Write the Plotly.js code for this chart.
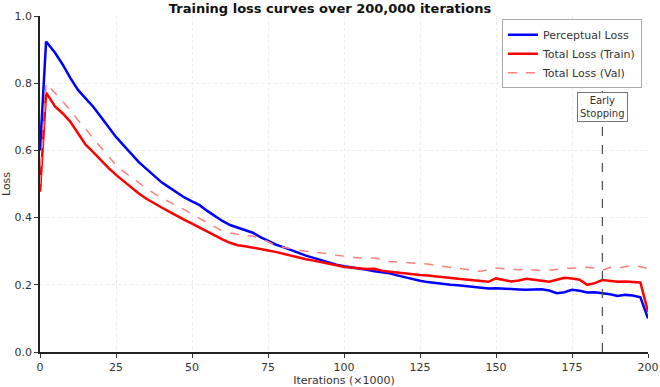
<!DOCTYPE html>
<html>
<head>
<meta charset="utf-8">
<script src="https://cdn.plot.ly/plotly-3.0.1.min.js"></script>
<style>html,body{margin:0;padding:0;background:#fff;}#chart{width:660px;height:387px;}</style>
</head>
<body>
<div id="chart"></div>
<script>
const iterations = [0,2,5,7.5,10,12.5,15,17.5,20,22.5,25,27.5,30,32.5,35,37.5,40,42.5,45,47.5,50,52.5,55,57.5,60,62.5,65,67.5,70,72.5,75,77.5,80,82.5,85,87.5,90,92.5,95,97.5,100,102.5,105,107.5,110,112.5,115,117.5,120,122.5,125,127.5,130,132.5,135,137.5,140,142.5,145,147.5,150,152.5,155,157.5,160,162.5,165,167.5,170,172.5,175,177.5,180,182.5,185,187.5,190,192.5,195,197.5,200];
const perceptualLoss = [0.60,0.924,0.89,0.855,0.815,0.78,0.755,0.73,0.70,0.67,0.64,0.615,0.59,0.565,0.545,0.525,0.505,0.49,0.475,0.46,0.448,0.437,0.42,0.405,0.39,0.378,0.37,0.362,0.355,0.342,0.33,0.32,0.312,0.303,0.295,0.287,0.28,0.273,0.266,0.26,0.255,0.252,0.249,0.245,0.24,0.237,0.234,0.228,0.222,0.216,0.212,0.208,0.205,0.203,0.20,0.199,0.197,0.195,0.192,0.189,0.19,0.188,0.187,0.186,0.185,0.186,0.187,0.183,0.175,0.178,0.185,0.182,0.177,0.178,0.176,0.172,0.167,0.17,0.168,0.163,0.10];
const totalTrain = [0.477,0.772,0.73,0.71,0.685,0.65,0.617,0.595,0.57,0.548,0.527,0.508,0.49,0.472,0.456,0.442,0.43,0.418,0.405,0.393,0.382,0.37,0.36,0.347,0.335,0.325,0.318,0.315,0.31,0.305,0.302,0.298,0.292,0.287,0.282,0.276,0.272,0.268,0.262,0.258,0.253,0.251,0.25,0.247,0.248,0.242,0.239,0.236,0.234,0.231,0.229,0.228,0.225,0.222,0.22,0.218,0.216,0.213,0.211,0.209,0.219,0.214,0.21,0.213,0.218,0.215,0.212,0.209,0.215,0.221,0.219,0.215,0.20,0.205,0.214,0.212,0.209,0.21,0.208,0.207,0.12];
const totalVal = [0.50,0.80,0.77,0.745,0.72,0.69,0.665,0.635,0.61,0.582,0.557,0.537,0.52,0.503,0.487,0.472,0.458,0.447,0.436,0.424,0.41,0.398,0.385,0.372,0.36,0.354,0.35,0.347,0.345,0.338,0.328,0.318,0.312,0.307,0.303,0.30,0.298,0.296,0.292,0.288,0.285,0.282,0.28,0.28,0.28,0.275,0.269,0.268,0.267,0.266,0.265,0.262,0.258,0.255,0.252,0.25,0.246,0.243,0.24,0.245,0.25,0.248,0.246,0.245,0.246,0.244,0.242,0.243,0.247,0.249,0.249,0.25,0.252,0.25,0.243,0.252,0.25,0.254,0.258,0.254,0.248];
const earlyStop = 185;
const xTicks = [0,25,50,75,100,125,150,175,200];
const yTicks = [0,0.2,0.4,0.6,0.8,1.0];

const font = 'DejaVu Sans, sans-serif';
const traces = [
  {x: iterations, y: perceptualLoss, name: 'Perceptual Loss', mode: 'lines', line: {color: '#0000ff', width: 2.5}},
  {x: iterations, y: totalTrain, name: 'Total Loss (Train)', mode: 'lines', line: {color: '#ff0000', width: 2.5}},
  {x: iterations, y: totalVal, name: 'Total Loss (Val)', mode: 'lines', line: {color: '#ff7f7f', width: 1.5, dash: 'dash'}}
];
const layout = {
  width: 660, height: 387,
  margin: {l: 40, r: 12, t: 16, b: 35},
  paper_bgcolor: '#fff', plot_bgcolor: '#fff',
  font: {family: font, size: 11, color: '#333'},
  title: {text: '<b>Training loss curves over 200,000 iterations</b>', x: 0.5, xanchor: 'center', y: 0.99, yanchor: 'top', font: {family: font, size: 13, color: '#111'}},
  xaxis: {range: [0, 200], tickvals: xTicks, ticks: 'outside', ticklen: 4, tickcolor: '#333', showline: true, linecolor: '#222', linewidth: 1.5, zeroline: false,
    showgrid: true, gridcolor: '#ececec', griddash: 'dot', title: {text: 'Iterations (×1000)', standoff: 4, font: {family: font, size: 11, color: '#333'}}},
  yaxis: {range: [0, 1.0], tickvals: yTicks, tickformat: '.1f', ticks: 'outside', ticklen: 4, tickcolor: '#333', showline: true, linecolor: '#222', linewidth: 1.5, zeroline: false,
    showgrid: true, gridcolor: '#ececec', griddash: 'dot', title: {text: 'Loss', standoff: 6, font: {family: font, size: 11, color: '#333'}}},
  legend: {x: 0.99, y: 0.99, xanchor: 'right', yanchor: 'top', bgcolor: '#fff', bordercolor: '#aaa', borderwidth: 1, itemwidth: 30, font: {family: font, size: 11, color: '#333'}, tracegroupgap: 0},
  shapes: [{type: 'line', xref: 'x', yref: 'paper', x0: earlyStop, x1: earlyStop, y0: 0, y1: 1, line: {color: '#555', width: 1.3, dash: 'dash'}}],
  annotations: [{x: earlyStop, y: 0.73, xref: 'x', yref: 'y', text: 'Early<br>Stopping', showarrow: false, bgcolor: '#fff', bordercolor: '#777', borderwidth: 1, borderpad: 2, font: {family: font, size: 10, color: '#333'}}]
};
Plotly.newPlot('chart', traces, layout, {displayModeBar: false});
</script>
</body>
</html>
